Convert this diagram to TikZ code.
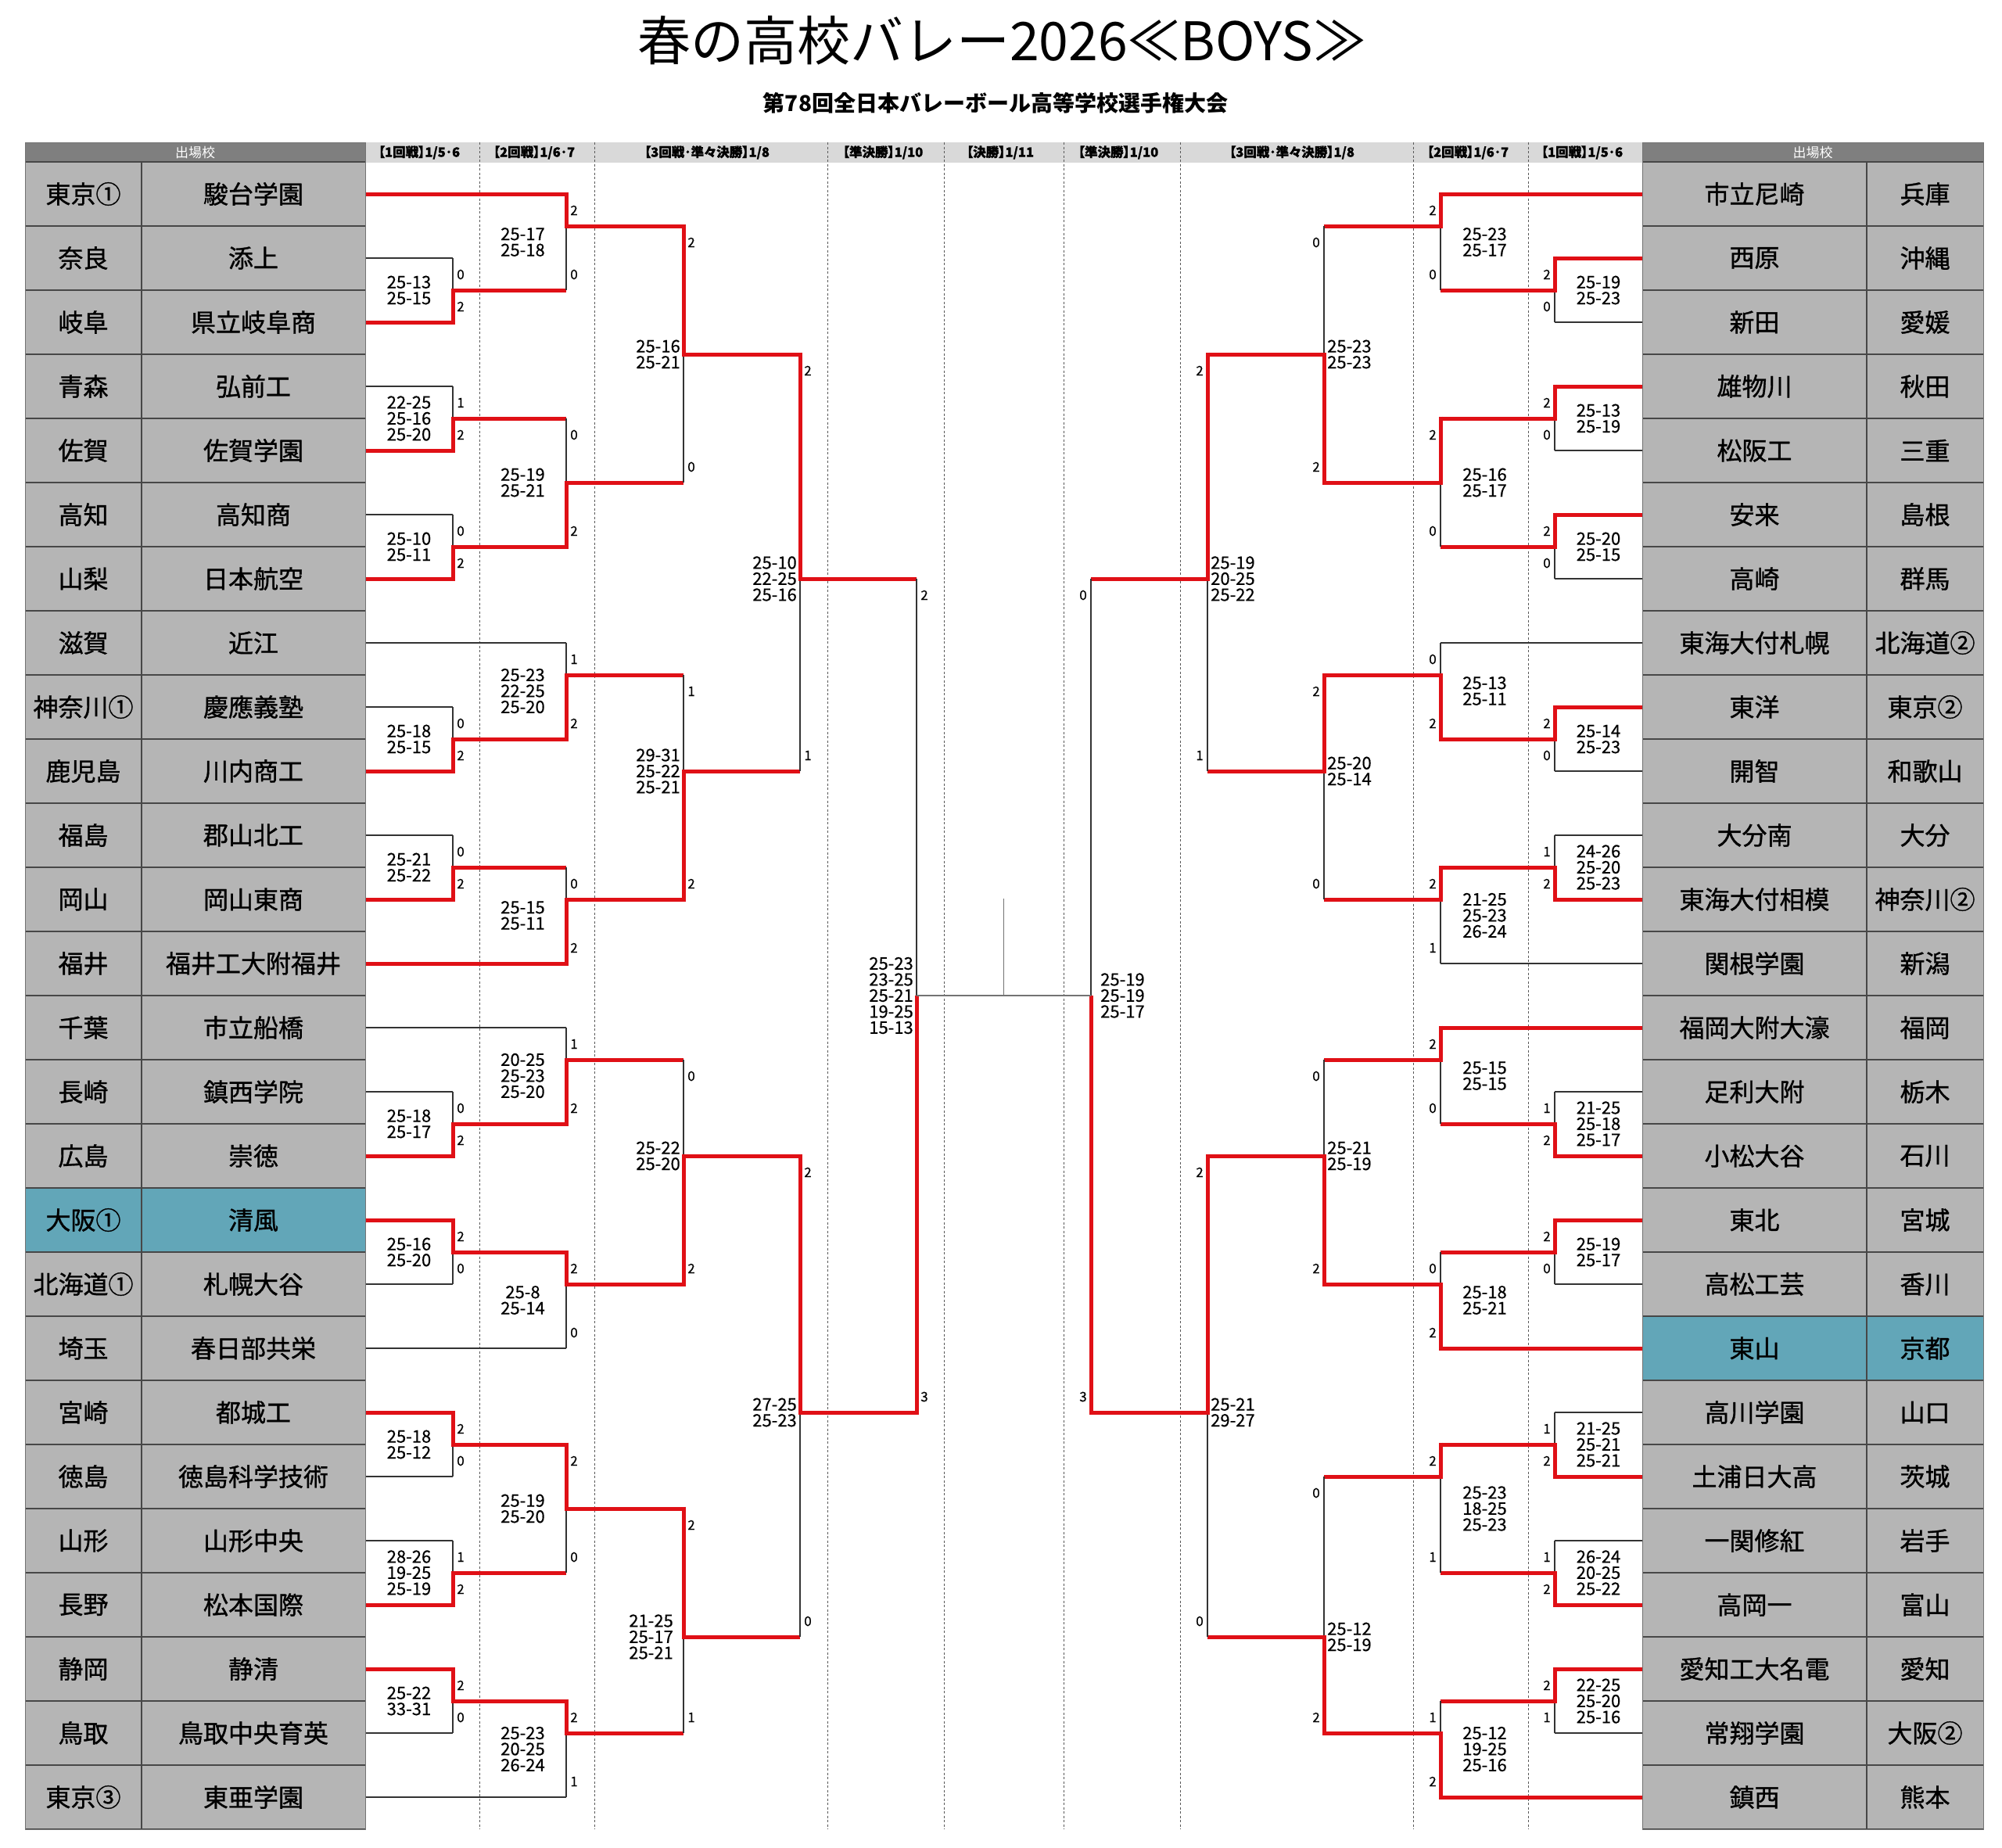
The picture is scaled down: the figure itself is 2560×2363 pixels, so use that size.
\documentclass[tikz,border=0pt]{standalone}
\usepackage{fontspec}
\setmainfont{Noto Sans CJK JP}
\newfontfamily\teamfont[FakeBold=1]{Noto Sans CJK JP}
\newfontfamily\hdrfont[RawFeature=+palt,FakeBold=1.2]{Noto Sans CJK JP}
\newfontfamily\scfont[FakeBold=0.4]{Noto Sans CJK JP}
\definecolor{bred}{RGB}{224,16,22}
\definecolor{cellg}{RGB}{181,181,181}
\definecolor{tealc}{RGB}{98,166,184}
\definecolor{hdrd}{RGB}{127,127,127}
\definecolor{hdrl}{RGB}{217,217,217}
\newcounter{nn}
\newcommand\gy[1]{(207+41*(#1))}
\tikzset{
  thinln/.style={line width=1.1pt, draw=black!80},
  redln/.style={line width=5pt, draw=bred, line join=miter},
  dashln/.style={line width=1pt, draw=black!65, dash pattern=on 3pt off 2.5pt},
  finln/.style={line width=1.1pt, draw=black!55},
  rowln/.style={line width=1.6pt, draw=black!72},
  team/.style={font=\teamfont\fontsize{32}{34}\selectfont, inner sep=0pt},
  sc/.style={font=\scfont\fontsize{22}{20.5}\selectfont, inner sep=0pt},
  win/.style={font=\scfont\fontsize{17}{17}\selectfont, inner sep=0pt},
  hdr/.style={font=\hdrfont\bfseries\fontsize{16.5}{16.5}\selectfont, inner sep=0pt},
}
% left-side match: x, xnext, upper, lower, out, winner, score upper, score lower
\newcommand\LM[8]{%
  \draw[thinln] (#1,{\gy{#3}}) -- (#1,{\gy{#4}});
  \draw[redln] (#1,{\gy{#6}+2.5*sign(#6-#5)}) -- (#1,{\gy{#5}}) -- (#2,{\gy{#5}});
  \stepcounter{nn}%
  \node[win] (wa\arabic{nn}) at ({#1+10},{\gy{#3}+21}) {#7};
  \node[win] (wb\arabic{nn}) at ({#1+10},{\gy{#4}-20}) {#8};
}
\newcommand\RM[8]{%
  \draw[thinln] (#1,{\gy{#3}}) -- (#1,{\gy{#4}});
  \draw[redln] (#1,{\gy{#6}+2.5*sign(#6-#5)}) -- (#1,{\gy{#5}}) -- (#2,{\gy{#5}});
  \stepcounter{nn}%
  \node[win] (wa\arabic{nn}) at ({#1-10},{\gy{#3}+21}) {#7};
  \node[win] (wb\arabic{nn}) at ({#1-10},{\gy{#4}-20}) {#8};
}
\begin{document}
\begin{tikzpicture}[x=1pt,y=-1pt]
\useasboundingbox (0,0) rectangle (2560,2363);
\fill[white] (0,0) rectangle (2560,2363);

% titles
\node[font=\fontsize{68}{70}\selectfont, inner sep=0pt] (title) at (1281,52) {春の高校バレー2026≪BOYS≫};
\node[font=\bfseries\fontsize{28}{30}\selectfont, inner sep=0pt] (subtitle) at (1273,132) {第78回全日本バレーボール高等学校選手権大会};

% header band
\fill[hdrl] (467,182) rectangle (2100,208);
\foreach \xx in {613,760,1058,1207,1360,1509,1807,1954}
  \draw[dashln] (\xx,182) -- (\xx,2339);
\node[hdr] (h1) at (536,195) {【1回戦】1/5･6};
\node[hdr] (h2) at (683,195) {【2回戦】1/6･7};
\node[hdr] (h3) at (904,195) {【3回戦･準々決勝】1/8};
\node[hdr] (h4) at (1129,195) {【準決勝】1/10};
\node[hdr] (h5) at (1279,195) {【決勝】1/11};
\node[hdr] (h6) at (1430,195) {【準決勝】1/10};
\node[hdr] (h7) at (1652,195) {【3回戦･準々決勝】1/8};
\node[hdr] (h8) at (1877,195) {【2回戦】1/6･7};
\node[hdr] (h9) at (2023,195) {【1回戦】1/5･6};

% team lines left
\foreach \gg/\xe/\st in {1/724/redln,3/579/thinln,5/579/redln,7/579/thinln,9/579/redln,11/579/thinln,13/579/redln,15/724/thinln,17/579/thinln,19/579/redln,21/579/thinln,23/579/redln,25/724/redln,27/724/thinln,29/579/thinln,31/579/redln,33/579/redln,35/579/thinln,37/724/thinln,39/579/redln,41/579/thinln,43/579/thinln,45/579/redln,47/579/redln,49/579/thinln,51/724/thinln}
  \draw[\st] (467,{\gy{\gg}}) -- (\xe,{\gy{\gg}});
% team lines right
\foreach \gg/\xe/\st in {1/1842/redln,3/1988/redln,5/1988/thinln,7/1988/redln,9/1988/thinln,11/1988/redln,13/1988/thinln,15/1842/thinln,17/1988/redln,19/1988/thinln,21/1988/thinln,23/1988/redln,25/1842/thinln,27/1842/redln,29/1988/thinln,31/1988/redln,33/1988/redln,35/1988/thinln,37/1842/redln,39/1988/thinln,41/1988/redln,43/1988/thinln,45/1988/redln,47/1988/redln,49/1988/thinln,51/1842/redln}
  \draw[\st] (2100,{\gy{\gg}}) -- (\xe,{\gy{\gg}});

% left R1
\LM{579}{724}{3}{5}{4}{5}{0}{2}
\LM{579}{724}{7}{9}{8}{9}{1}{2}
\LM{579}{724}{11}{13}{12}{13}{0}{2}
\LM{579}{724}{17}{19}{18}{19}{0}{2}
\LM{579}{724}{21}{23}{22}{23}{0}{2}
\LM{579}{724}{29}{31}{30}{31}{0}{2}
\LM{579}{724}{33}{35}{34}{33}{2}{0}
\LM{579}{724}{39}{41}{40}{39}{2}{0}
\LM{579}{724}{43}{45}{44}{45}{1}{2}
\LM{579}{724}{47}{49}{48}{47}{2}{0}
% left R2
\LM{724}{874}{1}{4}{2}{1}{2}{0}
\LM{724}{874}{8}{12}{10}{12}{0}{2}
\LM{724}{874}{15}{18}{16}{18}{1}{2}
\LM{724}{874}{22}{25}{23}{25}{0}{2}
\LM{724}{874}{27}{30}{28}{30}{1}{2}
\LM{724}{874}{34}{37}{35}{34}{2}{0}
\LM{724}{874}{40}{44}{42}{40}{2}{0}
\LM{724}{874}{48}{51}{49}{48}{2}{1}
% left R3
\LM{874}{1023}{2}{10}{6}{2}{2}{0}
\LM{874}{1023}{16}{23}{19}{23}{1}{2}
\LM{874}{1023}{28}{35}{31}{35}{0}{2}
\LM{874}{1023}{42}{49}{46}{42}{2}{1}
% left QF
\LM{1023}{1172}{6}{19}{13}{6}{2}{1}
\LM{1023}{1172}{31}{46}{39}{31}{2}{0}
% left SF
\draw[thinln] (1172,{\gy{13}}) -- (1172,{\gy{39}});
\draw[redln] (1172,{\gy{39}+2.5}) -- (1172,{\gy{26}});
\node[win] (sfla) at (1182,{\gy{13}+21}) {2};
\node[win] (sflb) at (1182,{\gy{39}-20}) {3};

% right R1
\RM{1988}{1842}{3}{5}{4}{3}{2}{0}
\RM{1988}{1842}{7}{9}{8}{7}{2}{0}
\RM{1988}{1842}{11}{13}{12}{11}{2}{0}
\RM{1988}{1842}{17}{19}{18}{17}{2}{0}
\RM{1988}{1842}{21}{23}{22}{23}{1}{2}
\RM{1988}{1842}{29}{31}{30}{31}{1}{2}
\RM{1988}{1842}{33}{35}{34}{33}{2}{0}
\RM{1988}{1842}{39}{41}{40}{41}{1}{2}
\RM{1988}{1842}{43}{45}{44}{45}{1}{2}
\RM{1988}{1842}{47}{49}{48}{47}{2}{1}
% right R2
\RM{1842}{1693}{1}{4}{2}{1}{2}{0}
\RM{1842}{1693}{8}{12}{10}{8}{2}{0}
\RM{1842}{1693}{15}{18}{16}{18}{0}{2}
\RM{1842}{1693}{22}{25}{23}{22}{2}{1}
\RM{1842}{1693}{27}{30}{28}{27}{2}{0}
\RM{1842}{1693}{34}{37}{35}{37}{0}{2}
\RM{1842}{1693}{40}{44}{41}{40}{2}{1}
\RM{1842}{1693}{48}{51}{49}{51}{1}{2}
% right R3
\RM{1693}{1544}{2}{10}{6}{10}{0}{2}
\RM{1693}{1544}{16}{23}{19}{16}{2}{0}
\RM{1693}{1544}{28}{35}{31}{35}{0}{2}
\RM{1693}{1544}{41}{49}{46}{49}{0}{2}
% right QF
\RM{1544}{1395}{6}{19}{13}{6}{2}{1}
\RM{1544}{1395}{31}{46}{39}{31}{2}{0}
% right SF
\draw[thinln] (1395,{\gy{13}}) -- (1395,{\gy{39}});
\draw[redln] (1395,{\gy{39}+2.5}) -- (1395,{\gy{26}});
\node[win] (sfra) at (1385,{\gy{13}+21}) {0};
\node[win] (sfrb) at (1385,{\gy{39}-20}) {3};

% final
\coordinate (fl) at (1172,{\gy{26}});
\coordinate (fr) at (1395,{\gy{26}});
\coordinate (fm) at (1283.5,{\gy{26}});
\coordinate (ft) at (1283.5,1149);
\draw[finln] (fl) -- (fr);
\draw[finln] (ft) -- (fm);

% score texts left
\node[sc,align=center] (a1) at (523,{\gy{4}}) {25-13\\25-15};
\node[sc,align=center] (a2) at (523,{\gy{8}}) {22-25\\25-16\\25-20};
\node[sc,align=center] (a3) at (523,{\gy{12}}) {25-10\\25-11};
\node[sc,align=center] (a4) at (523,{\gy{18}}) {25-18\\25-15};
\node[sc,align=center] (a5) at (523,{\gy{22}}) {25-21\\25-22};
\node[sc,align=center] (a6) at (523,{\gy{30}}) {25-18\\25-17};
\node[sc,align=center] (a7) at (523,{\gy{34}}) {25-16\\25-20};
\node[sc,align=center] (a8) at (523,{\gy{40}}) {25-18\\25-12};
\node[sc,align=center] (a9) at (523,{\gy{44}}) {28-26\\19-25\\25-19};
\node[sc,align=center] (a10) at (523,{\gy{48}}) {25-22\\33-31};
\node[sc,align=center] (b1) at (668.5,{\gy{2.5}}) {25-17\\25-18};
\node[sc,align=center] (b2) at (668.5,{\gy{10}}) {25-19\\25-21};
\node[sc,align=center] (b3) at (668.5,{\gy{16.5}}) {25-23\\22-25\\25-20};
\node[sc,align=center] (b4) at (668.5,{\gy{23.5}}) {25-15\\25-11};
\node[sc,align=center] (b5) at (668.5,{\gy{28.5}}) {20-25\\25-23\\25-20};
\node[sc,align=center] (b6) at (668.5,{\gy{35.5}}) {25-8\\25-14};
\node[sc,align=center] (b7) at (668.5,{\gy{42}}) {25-19\\25-20};
\node[sc,align=center] (b8) at (668.5,{\gy{49.5}}) {25-23\\20-25\\26-24};
\node[sc,align=right,anchor=east] (c1) at (870,{\gy{6}}) {25-16\\25-21};
\node[sc,align=right,anchor=east] (c2) at (870,{\gy{19}}) {29-31\\25-22\\25-21};
\node[sc,align=right,anchor=east] (c3) at (870,{\gy{31}}) {25-22\\25-20};
\node[sc,align=right,anchor=east] (c4) at (861,{\gy{46}}) {21-25\\25-17\\25-21};
\node[sc,align=right,anchor=east] (d1) at (1019,{\gy{13}}) {25-10\\22-25\\25-16};
\node[sc,align=right,anchor=east] (d2) at (1019,{\gy{39}}) {27-25\\25-23};
\node[sc,align=right,anchor=east] (e1) at (1168,{\gy{26}}) {25-23\\23-25\\25-21\\19-25\\15-13};
% score texts right
\node[sc,align=center] (ra1) at (2044,{\gy{4}}) {25-19\\25-23};
\node[sc,align=center] (ra2) at (2044,{\gy{8}}) {25-13\\25-19};
\node[sc,align=center] (ra3) at (2044,{\gy{12}}) {25-20\\25-15};
\node[sc,align=center] (ra4) at (2044,{\gy{18}}) {25-14\\25-23};
\node[sc,align=center] (ra5) at (2044,{\gy{22}}) {24-26\\25-20\\25-23};
\node[sc,align=center] (ra6) at (2044,{\gy{30}}) {21-25\\25-18\\25-17};
\node[sc,align=center] (ra7) at (2044,{\gy{34}}) {25-19\\25-17};
\node[sc,align=center] (ra8) at (2044,{\gy{40}}) {21-25\\25-21\\25-21};
\node[sc,align=center] (ra9) at (2044,{\gy{44}}) {26-24\\20-25\\25-22};
\node[sc,align=center] (ra10) at (2044,{\gy{48}}) {22-25\\25-20\\25-16};
\node[sc,align=center] (rb1) at (1898.5,{\gy{2.5}}) {25-23\\25-17};
\node[sc,align=center] (rb2) at (1898.5,{\gy{10}}) {25-16\\25-17};
\node[sc,align=center] (rb3) at (1898.5,{\gy{16.5}}) {25-13\\25-11};
\node[sc,align=center] (rb4) at (1898.5,{\gy{23.5}}) {21-25\\25-23\\26-24};
\node[sc,align=center] (rb5) at (1898.5,{\gy{28.5}}) {25-15\\25-15};
\node[sc,align=center] (rb6) at (1898.5,{\gy{35.5}}) {25-18\\25-21};
\node[sc,align=center] (rb7) at (1898.5,{\gy{42}}) {25-23\\18-25\\25-23};
\node[sc,align=center] (rb8) at (1898.5,{\gy{49.5}}) {25-12\\19-25\\25-16};
\node[sc,align=left,anchor=west] (rc1) at (1697,{\gy{6}}) {25-23\\25-23};
\node[sc,align=left,anchor=west] (rc2) at (1697,{\gy{19}}) {25-20\\25-14};
\node[sc,align=left,anchor=west] (rc3) at (1697,{\gy{31}}) {25-21\\25-19};
\node[sc,align=left,anchor=west] (rc4) at (1697,{\gy{46}}) {25-12\\25-19};
\node[sc,align=left,anchor=west] (rd1) at (1548,{\gy{13}}) {25-19\\20-25\\25-22};
\node[sc,align=left,anchor=west] (rd2) at (1548,{\gy{39}}) {25-21\\29-27};
\node[sc,align=left,anchor=west] (re1) at (1407,{\gy{26}}) {25-19\\25-19\\25-17};

% left table
\fill[hdrd] (32,182) rectangle (467,207);
\node[font=\fontsize{17}{17}\selectfont, text=white, inner sep=0pt] (hl) at (249.5,195) {出場校};
\fill[cellg] (32,207) rectangle (467,2339);
\fill[tealc] (32,1519) rectangle (467,1601);
\foreach \k in {0,...,26} \draw[rowln] (32,{207+82*\k}) -- (467,{207+82*\k});
\draw[rowln,line width=1.2pt] (181,207) -- (181,2339);
\draw[line width=1pt, draw=black!55] (32,182) rectangle (467,2339);
\foreach \p/\n [count=\i from 0] in {東京①/駿台学園,奈良/添上,岐阜/県立岐阜商,青森/弘前工,佐賀/佐賀学園,高知/高知商,山梨/日本航空,滋賀/近江,神奈川①/慶應義塾,鹿児島/川内商工,福島/郡山北工,岡山/岡山東商,福井/福井工大附福井,千葉/市立船橋,長崎/鎮西学院,広島/崇徳,大阪①/清風,北海道①/札幌大谷,埼玉/春日部共栄,宮崎/都城工,徳島/徳島科学技術,山形/山形中央,長野/松本国際,静岡/静清,鳥取/鳥取中央育英,東京③/東亜学園} {
  \node[team] (lp\i) at (106.5,{248+82*\i}) {\p};
  \node[team] (ln\i) at (324,{248+82*\i}) {\n};
}

% right table
\fill[hdrd] (2100,182) rectangle (2536,207);
\node[font=\fontsize{17}{17}\selectfont, text=white, inner sep=0pt] (hr) at (2318,195) {出場校};
\fill[cellg] (2100,207) rectangle (2536,2339);
\fill[tealc] (2100,1683) rectangle (2536,1765);
\foreach \k in {0,...,26} \draw[rowln] (2100,{207+82*\k}) -- (2536,{207+82*\k});
\draw[rowln,line width=1.2pt] (2387,207) -- (2387,2339);
\draw[line width=1pt, draw=black!55] (2100,182) rectangle (2536,2339);
\foreach \n/\p [count=\i from 0] in {市立尼崎/兵庫,西原/沖縄,新田/愛媛,雄物川/秋田,松阪工/三重,安来/島根,高崎/群馬,東海大付札幌/北海道②,東洋/東京②,開智/和歌山,大分南/大分,東海大付相模/神奈川②,関根学園/新潟,福岡大附大濠/福岡,足利大附/栃木,小松大谷/石川,東北/宮城,高松工芸/香川,東山/京都,高川学園/山口,土浦日大高/茨城,一関修紅/岩手,高岡一/富山,愛知工大名電/愛知,常翔学園/大阪②,鎮西/熊本} {
  \node[team] (rn\i) at (2243.5,{248+82*\i}) {\n};
  \node[team] (rp\i) at (2461.5,{248+82*\i}) {\p};
}
\end{tikzpicture}
\end{document}
